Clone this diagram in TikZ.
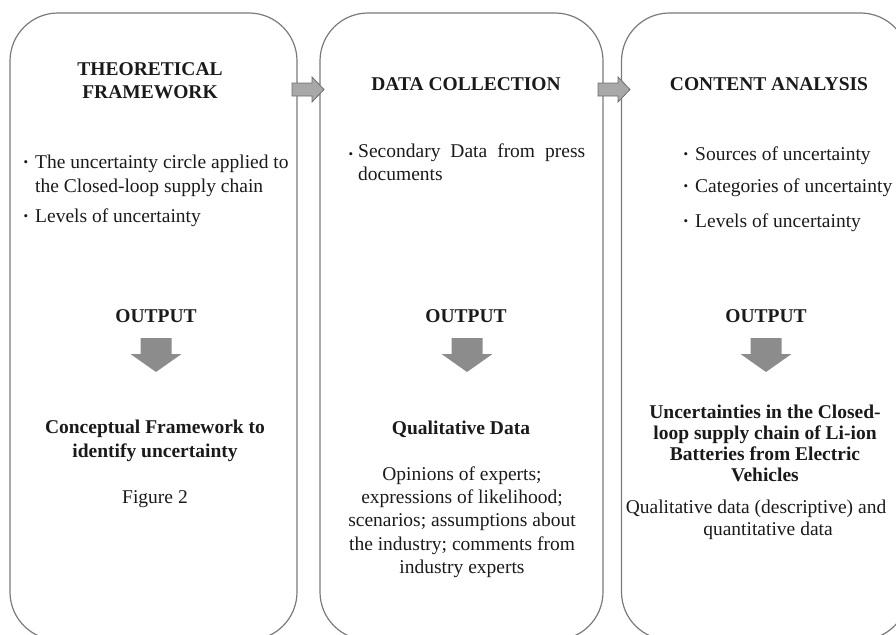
\documentclass[tikz,border=0pt]{standalone}
\usepackage{fontspec}
\setmainfont{Liberation Serif}
\definecolor{panelline}{HTML}{7A7A7A}
\definecolor{inktext}{HTML}{1A1A1A}
\definecolor{sidefill}{HTML}{A8A8A8}
\definecolor{sideline}{HTML}{6E6E6E}
\definecolor{downfill}{HTML}{8C8C8C}
\newcommand{\smalldot}{\raisebox{1.6pt}{\fontsize{13}{13}\selectfont\textbullet}}
\tikzset{
  panel/.style={draw=panelline, line width=1.2pt, rounded corners=48pt,
    rectangle, minimum width=287pt, minimum height=627pt, inner sep=0pt},
  body/.style={font=\fontsize{19.5}{23}\selectfont, text=inktext, inner sep=0pt, anchor=base},
  bodyl/.style={body, anchor=base west},
  head/.style={body, font=\fontsize{19.5}{23}\selectfont\bfseries},
  rightarrow/.pic={
    \filldraw[fill=sidefill, draw=sideline, line width=0.8pt]
      (0,-6.5) -- (20,-6.5) -- (20,-12.5) -- (32,0) -- (20,12.5) -- (20,6.5) -- (0,6.5) -- cycle;
  },
  downarrow/.pic={
    \fill[downfill]
      (-15.5,0) -- (15.5,0) -- (15.5,16) -- (25.5,16) -- (0,34) -- (-25.5,16) -- (-15.5,16) -- cycle;
  }
}
\begin{document}
\begin{tikzpicture}[x=1pt, y=-1pt]
\useasboundingbox (0,0) rectangle (896,634);
\clip (0,0) rectangle (896,634);

% three stage panels
\node[panel] (p1) at (153.5,326.5) {};
\node[panel, minimum width=283pt] (p2) at (461.5,326.5) {};
\node[panel] (p3) at (765,326.5) {};

% links between the stages
\pic at (292,89.5) {rightarrow};
\pic at (598,89.5) {rightarrow};

% ---- stage 1: theoretical framework
\node[head] (t1a) at (150,75) {THEORETICAL};
\node[head] (t1b) at (150,98.5) {FRAMEWORK};
\node[body] (b1a) at (26,168) {\smalldot};
\node[bodyl] (l1a) at (35,168) {The uncertainty circle applied to};
\node[bodyl] (l1b) at (35,192) {the Closed-loop supply chain};
\node[body] (b1b) at (26,222) {\smalldot};
\node[bodyl] (l1c) at (35,222) {Levels of uncertainty};
\node[head] (o1) at (156,322.5) {OUTPUT};
\pic at (156,338) {downarrow};
\node[head] (r1a) at (155,433) {Conceptual Framework to};
\node[head] (r1b) at (155,457) {identify uncertainty};
\node[body] (r1c) at (155,503) {Figure 2};

% ---- stage 2: data collection
\node[head] (t2) at (466,90) {DATA COLLECTION};
\node[body] (b2a) at (351,160) {\smalldot};
\node[bodyl, anchor=north west, text width=227pt, align=justify] (l2a) at (358,144)
  {\hyphenpenalty=10000 Secondary Data from press\linebreak documents};
\node[head] (o2) at (466,322.5) {OUTPUT};
\pic at (467,338) {downarrow};
\node[head] (r2a) at (461,434) {Qualitative Data};
\node[body] (r2b) at (462,480) {Opinions of experts;};
\node[body] (r2c) at (462,503) {expressions of likelihood;};
\node[body] (r2d) at (462,526.5) {scenarios; assumptions about};
\node[body] (r2e) at (462,550) {the industry; comments from};
\node[body] (r2f) at (462,573) {industry experts};

% ---- stage 3: content analysis
\node[head] (t3) at (769,90) {CONTENT ANALYSIS};
\node[body] (b3a) at (686,160) {\smalldot};
\node[bodyl] (l3a) at (695,160) {Sources of uncertainty};
\node[body] (b3b) at (686,192.5) {\smalldot};
\node[bodyl] (l3b) at (695,192.5) {Categories of uncertainty};
\node[body] (b3c) at (686,227) {\smalldot};
\node[bodyl] (l3c) at (695,227) {Levels of uncertainty};
\node[head] (o3) at (766,322.5) {OUTPUT};
\pic at (766,338) {downarrow};
\node[head] (r3a) at (765,418) {Uncertainties in the Closed-};
\node[head] (r3b) at (765,439) {loop supply chain of Li-ion};
\node[head] (r3c) at (765,460) {Batteries from Electric};
\node[head] (r3d) at (765,481) {Vehicles};
\node[body] (r3e) at (756,513) {Qualitative data (descriptive) and};
\node[body] (r3f) at (768,535.5) {quantitative data};
\end{tikzpicture}
\end{document}
